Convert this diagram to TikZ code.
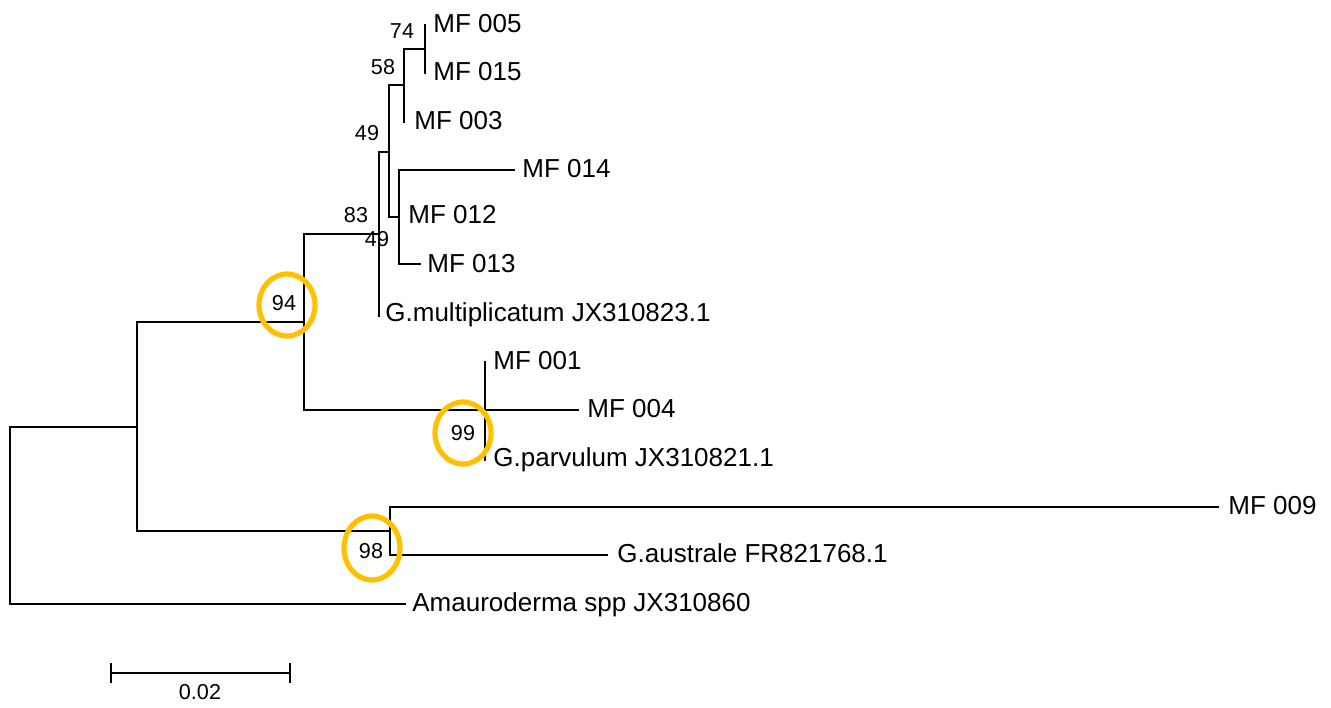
\documentclass[tikz,border=0pt]{standalone}
\usepackage{fontspec}
\setmainfont{Liberation Sans}
\definecolor{ringc}{RGB}{255,192,0}
\begin{document}
\begin{tikzpicture}[x=0.5pt,y=-0.5pt,
  br/.style={line width=1pt, line cap=rect},
  tiplab/.style={anchor=base west, inner sep=0pt, font=\fontsize{13}{15}\selectfont},
  bs/.style={inner sep=0pt, font=\fontsize{10.8}{12}\selectfont},
  ring/.style={draw=ringc, line width=2.6pt}]
\useasboundingbox (0,0) rectangle (1331,707);
% internal node coordinates (top / bottom ends of verticals)
\coordinate (rT) at (10,427);   \coordinate (rB) at (10,604);
\coordinate (aT) at (137,322);  \coordinate (aB) at (137,531);
\coordinate (bT) at (304,234);  \coordinate (bB) at (304,410);
\coordinate (cT) at (379,152);  \coordinate (cB) at (379,316);
\coordinate (dT) at (389,85);   \coordinate (dB) at (389,217);
\coordinate (eT) at (404,49);   \coordinate (eB) at (404,122);
\coordinate (fT) at (425,25);   \coordinate (fB) at (425,73);
\coordinate (gT) at (399,170);  \coordinate (gB) at (399,264);
\coordinate (gM) at (399,217);
\coordinate (hT) at (485,362);  \coordinate (hB) at (485,460);
\coordinate (hM) at (485,410);
\coordinate (iT) at (390,507);  \coordinate (iB) at (390,555);
% tip end points
\coordinate (t014) at (514,170);
\coordinate (t013) at (420,264);
\coordinate (t004) at (578,410);
\coordinate (t009) at (1218,507);
\coordinate (taus) at (607,555);
\coordinate (tama) at (405,604);
% verticals
\foreach \n in {r,a,b,c,d,e,f,g,h,i} \draw[br] (\n T) -- (\n B);
% horizontals
\draw[br] (rT) -- (aT |- rT);
\draw[br] (aT) -- (bT |- aT);
\draw[br] (aB) -- (iT |- aB);
\draw[br] (bT) -- (cT |- bT);
\draw[br] (bB) -- (hM);
\draw[br] (cT) -- (dT |- cT);
\draw[br] (dT) -- (eT |- dT);
\draw[br] (dB) -- (gM);
\draw[br] (eT) -- (fT |- eT);
\draw[br] (gT) -- (t014);
\draw[br] (gB) -- (t013);
\draw[br] (hM) -- (t004);
\draw[br] (iT) -- (t009);
\draw[br] (iB) -- (taus);
\draw[br] (rB) -- (tama);
% tip labels
\node[tiplab] (l005) at (433,32) {MF 005};
\node[tiplab] (l015) at (433,80) {MF 015};
\node[tiplab] (l003) at (414,129) {MF 003};
\node[tiplab] (l014) at (522,177) {MF 014};
\node[tiplab] (l012) at (408,223) {MF 012};
\node[tiplab] (l013) at (427,272) {MF 013};
\node[tiplab] (lgm) at (385,321) {G.multiplicatum JX310823.1};
\node[tiplab] (l001) at (493,369) {MF 001};
\node[tiplab] (l004) at (587,417) {MF 004};
\node[tiplab] (lgp) at (493,466) {G.parvulum JX310821.1};
\node[tiplab] (l009) at (1228,514) {MF 009};
\node[tiplab] (lga) at (617,562) {G.australe FR821768.1};
\node[tiplab] (lam) at (412,611) {Amauroderma spp JX310860};
% bootstrap values
\node[bs] (b74) at (402,31) {74};
\node[bs] (b58) at (383,67) {58};
\node[bs] (b49a) at (367,133) {49};
\node[bs] (b83) at (356,215) {83};
\node[bs] (b49b) at (377,239) {49};
\node[bs] (b94) at (284,303) {94};
\node[bs] (b99) at (463,433) {99};
\node[bs] (b98) at (371,551) {98};
% highlight rings
\draw[ring] (287,305) ellipse [x radius=14pt, y radius=15.5pt];
\draw[ring] (463,433) ellipse [x radius=14pt, y radius=15.5pt];
\draw[ring] (372,548) ellipse [x radius=14pt, y radius=16pt];
% scale bar
\coordinate (sL) at (111,673); \coordinate (sR) at (290,673);
\draw[line width=1pt] (sL) -- (sR);
\draw[line width=1pt] (111,663) -- (111,683);
\draw[line width=1pt] (290,663) -- (290,683);
\node[inner sep=0pt, font=\fontsize{10.8}{12}\selectfont] (sc) at (200,692) {0.02};
\end{tikzpicture}
\end{document}
